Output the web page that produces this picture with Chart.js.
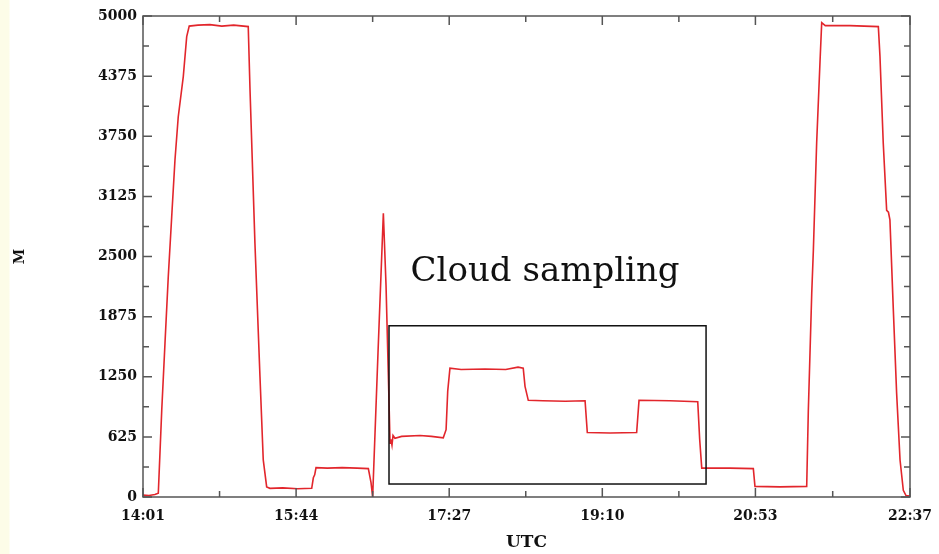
<!DOCTYPE html>
<html>
<head>
<meta charset="utf-8">
<script src="https://cdn.jsdelivr.net/npm/chart.js@4.4.0/dist/chart.umd.min.js"></script>
<style>
  html, body { margin: 0; padding: 0; }
  body { background: linear-gradient(to right, #fdfce8 0px, #fdfce8 9px, #ffffff 10px); }
  #wrap { width: 939px; height: 554px; position: relative; }
</style>
</head>
<body>
<div id="wrap"><canvas id="myChart" width="939" height="554"></canvas></div>
<script>
// flight altitude (M) against time of day, minutes after midnight UTC
const times = [
  841, 845, 849, 851.3, 853.6, 855.8, 858.0, 860.3, 862.5, 864.7, 868.1, 870.4, 872.1,
  878, 886, 894, 902, 911.8, 913.0, 916.3, 919.7, 921.9, 924.2, 926.4, 935, 945, 954.5,
  955.6, 956.5, 957.4, 965, 975, 985, 992.6, 994.4, 995.5, 999.1, 1002.7, 1004.5, 1006.0,
  1007.2, 1007.8, 1008.5, 1009.2, 1010.5, 1015, 1027.4, 1035, 1043.0, 1044.9, 1046, 1047.5,
  1055, 1071.1, 1085, 1093.3, 1096.8, 1098, 1100.2, 1110, 1125, 1138.4, 1139.9, 1155.2,
  1173.1, 1174.7, 1195.5, 1214.2, 1215.5, 1216.9, 1235.9, 1251.6, 1252.7, 1269.5, 1287.5,
  1288.6, 1290.9, 1292.0, 1294.2, 1296.5, 1297.6, 1300, 1316.6, 1335.7, 1336.8, 1339.0,
  1341.3, 1342.5, 1343.5, 1345.8, 1348.0, 1350.3, 1352.5, 1354.3, 1357
];
const altitude = [
  20, 15, 25, 40, 900, 1600, 2290, 2910, 3500, 3950, 4370, 4785, 4895,
  4905, 4910, 4895, 4905, 4890, 4230, 2640, 1250, 385, 105, 90, 95, 85, 90,
  200, 230, 305, 300, 305, 300, 295, 150, 0, 1500, 2950, 2200, 1300,
  560, 600, 540, 640, 610, 630, 640, 630, 615, 700, 1100, 1340,
  1325, 1330, 1325, 1350, 1340, 1150, 1005, 1000, 995, 1000, 670, 665,
  670, 1005, 1000, 990, 600, 300, 300, 295, 110, 105, 110,
  900, 2120, 2570, 3680, 4540, 4930, 4900, 4900, 4890, 4580, 3680,
  2980, 2960, 2880, 1940, 1080, 385, 70, 15, 10
];

const timeLabels = ['14:01', '15:44', '17:27', '19:10', '20:53', '22:37'];
const altTicks = [0, 625, 1250, 1875, 2500, 3125, 3750, 4375, 5000];

// boxed sampling period: [start, end] in minutes, [low, high] in M
const boxTime = [1006.5, 1219.8];
const boxAlt = [135, 1780];
const boxText = 'Cloud sampling';
const boxTextAt = [1111.5, 2245];

function toMinutes(s) {
  const p = s.split(':');
  return parseInt(p[0], 10) * 60 + parseInt(p[1], 10);
}
const timeTicks = timeLabels.map(toMinutes);

// frame with inward major/minor ticks on all four sides, plus the boxed note
const framePlugin = {
  id: 'frameTicks',
  afterDatasetsDraw(chart) {
    const ctx = chart.ctx;
    const a = chart.chartArea;
    const xs = chart.scales.x;
    const ys = chart.scales.y;
    ctx.save();
    ctx.strokeStyle = '#555';
    ctx.lineWidth = 1.5;
    ctx.strokeRect(a.left, a.top, a.right - a.left, a.bottom - a.top);

    ctx.beginPath();
    for (let i = 0; i < timeTicks.length; i++) {
      const px = xs.getPixelForValue(timeTicks[i]);
      ctx.moveTo(px, a.bottom); ctx.lineTo(px, a.bottom - 9);
      ctx.moveTo(px, a.top); ctx.lineTo(px, a.top + 9);
      if (i < timeTicks.length - 1) {
        const mx = xs.getPixelForValue((timeTicks[i] + timeTicks[i + 1]) / 2);
        ctx.moveTo(mx, a.bottom); ctx.lineTo(mx, a.bottom - 6);
        ctx.moveTo(mx, a.top); ctx.lineTo(mx, a.top + 6);
      }
    }
    for (let i = 0; i < altTicks.length; i++) {
      const py = ys.getPixelForValue(altTicks[i]);
      ctx.moveTo(a.left, py); ctx.lineTo(a.left + 9, py);
      ctx.moveTo(a.right, py); ctx.lineTo(a.right - 9, py);
      if (i < altTicks.length - 1) {
        const my = ys.getPixelForValue((altTicks[i] + altTicks[i + 1]) / 2);
        ctx.moveTo(a.left, my); ctx.lineTo(a.left + 6, my);
        ctx.moveTo(a.right, my); ctx.lineTo(a.right - 6, my);
      }
    }
    ctx.stroke();

    const bx0 = xs.getPixelForValue(boxTime[0]);
    const bx1 = xs.getPixelForValue(boxTime[1]);
    const by0 = ys.getPixelForValue(boxAlt[1]);
    const by1 = ys.getPixelForValue(boxAlt[0]);
    ctx.strokeStyle = '#111';
    ctx.lineWidth = 1.5;
    ctx.strokeRect(bx0, by0, bx1 - bx0, by1 - by0);

    ctx.fillStyle = '#111';
    ctx.font = '34px "DejaVu Serif"';
    ctx.textAlign = 'center';
    ctx.textBaseline = 'alphabetic';
    ctx.fillText(boxText, xs.getPixelForValue(boxTextAt[0]), ys.getPixelForValue(boxTextAt[1]));
    ctx.restore();
  }
};

window.addEventListener('load', function () {
  const ctx = document.getElementById('myChart');
  const myChart = new Chart(ctx, {
    type: 'line',
    data: {
      datasets: [{
        label: 'M',
        data: times.map((t, i) => ({ x: t, y: altitude[i] })),
        borderColor: 'rgb(226, 38, 44)',
        borderWidth: 1.6,
        pointRadius: 0,
        tension: 0,
        fill: false
      }]
    },
    options: {
      responsive: false,
      animation: false,
      layout: { padding: { left: 0, top: 16, right: 29, bottom: 0 } },
      plugins: { legend: { display: false }, tooltip: { enabled: false } },
      scales: {
        x: {
          type: 'linear',
          min: timeTicks[0],
          max: timeTicks[timeTicks.length - 1],
          afterBuildTicks: (scale) => { scale.ticks = timeTicks.map(v => ({ value: v })); },
          afterFit: (scale) => {
            // let the end labels hang over the edges instead of shrinking the plot
            scale.height = 57;
            scale.paddingLeft = 0;
            scale.paddingRight = 0;
          },
          grid: { drawOnChartArea: false, drawTicks: false },
          border: { display: false },
          ticks: {
            padding: 11,
            maxRotation: 0,
            color: '#111',
            font: { family: 'DejaVu Serif', size: 14, weight: 'bold' },
            callback: (v) => timeLabels[timeTicks.indexOf(v)]
          },
          title: {
            display: true,
            text: 'UTC',
            color: '#111',
            padding: { top: 0, bottom: 1 },
            font: { family: 'DejaVu Serif', size: 17, weight: 'bold' }
          }
        },
        y: {
          min: 0,
          max: 5000,
          afterBuildTicks: (scale) => { scale.ticks = altTicks.map(v => ({ value: v })); },
          afterFit: (scale) => { scale.width = 143; },
          grid: { drawOnChartArea: false, drawTicks: false },
          border: { display: false },
          ticks: {
            padding: 6,
            color: '#111',
            font: { family: 'DejaVu Serif', size: 14, weight: 'bold' },
            callback: (v) => String(v)
          },
          title: {
            display: true,
            text: 'M',
            color: '#111',
            padding: { top: 12, bottom: 0 },
            font: { family: 'DejaVu Serif', size: 14, weight: 'bold' }
          }
        }
      }
    },
    plugins: [framePlugin]
  });
});
</script>
</body>
</html>
